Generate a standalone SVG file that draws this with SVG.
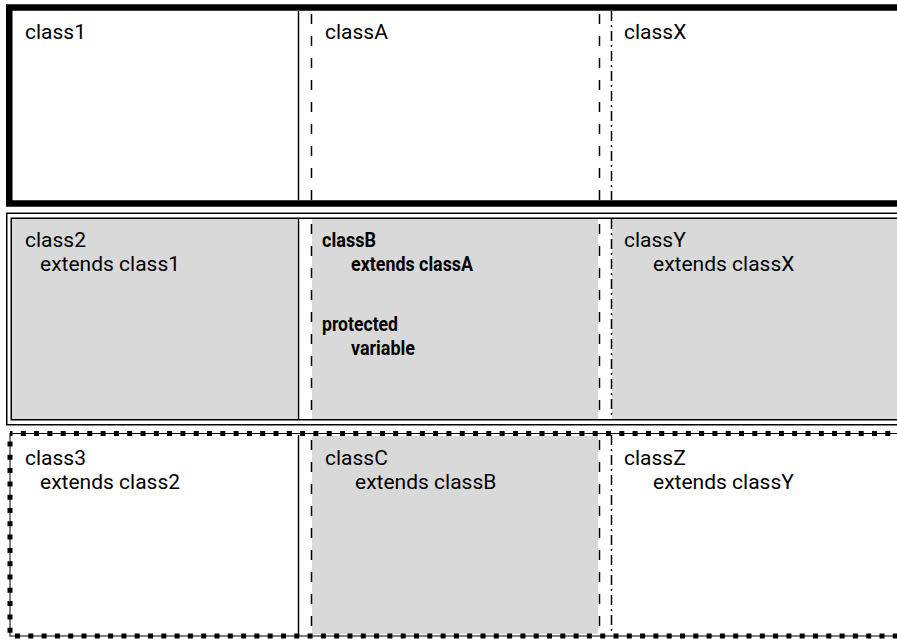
<svg xmlns="http://www.w3.org/2000/svg" width="897" height="639" viewBox="0 0 897 639">
<style>
text{font-family:Roboto,"Liberation Sans",sans-serif;font-size:21px;fill:#000}
.b{font-weight:bold;font-size:21px}
.sh{fill:#d9d9d9}
.c1{stroke:#000;stroke-width:1.5;fill:none}
.c2{stroke:#000;stroke-width:1.5;fill:none;stroke-dasharray:10 12}
.c3{stroke:#000;stroke-width:1.5;fill:none;stroke-dasharray:10 4 2 4}
.dd{stroke:#000;stroke-width:1.5;fill:none}
</style>
<rect width="897" height="639" fill="#fff"/>
<g id="shading">
<rect class="sh" x="12" y="219" width="285" height="201"/>
<rect class="sh" x="312" y="219" width="286" height="201"/>
<rect class="sh" x="612" y="219" width="290" height="201"/>
<rect class="sh" x="312" y="436" width="286" height="198"/>
</g>
<g id="connectors">
<line class="c1" x1="298.5" y1="11" x2="298.5" y2="200"/>
<line class="c2" x1="311.5" y1="14" x2="311.5" y2="200"/>
<line class="c2" x1="599.5" y1="14" x2="599.5" y2="200"/>
<line class="c3" x1="611.5" y1="11" x2="611.5" y2="200"/>
<line class="c1" x1="298.5" y1="219" x2="298.5" y2="420"/>
<line class="c2" x1="311.5" y1="224" x2="311.5" y2="420"/>
<line class="c2" x1="599.5" y1="224" x2="599.5" y2="420"/>
<line class="c3" x1="611.5" y1="219" x2="611.5" y2="420"/>
<line class="c1" x1="298.5" y1="435" x2="298.5" y2="635"/>
<line class="c2" x1="311.5" y1="440" x2="311.5" y2="635"/>
<line class="c2" x1="599.5" y1="440" x2="599.5" y2="635"/>
<line class="c3" x1="611.5" y1="435" x2="611.5" y2="635"/>
</g>
<g id="row1">
<rect x="9.25" y="7.5" width="900" height="196" fill="none" stroke="#000" stroke-width="6.5"/>
</g>
<g id="row2">
<rect class="dd" x="6.75" y="213.25" width="900" height="211.5"/>
<rect class="dd" x="11.25" y="218.25" width="900" height="201.5"/>
</g>
<g id="row3">
<rect x="10" y="433.5" width="900" height="202.5" fill="none" stroke="#000" stroke-width="1"/>
<rect x="10" y="433.5" width="900" height="202.5" fill="none" stroke="#000" stroke-width="5" stroke-dasharray="5 8.3" stroke-dashoffset="2.5"/>
</g>
<g id="class1"><text x="25" y="39">class1</text></g>
<g id="classA"><text x="325" y="39">classA</text></g>
<g id="classX"><text x="624" y="39">classX</text></g>
<g id="class2"><text x="25" y="247">class2</text><text x="40" y="271">extends class1</text></g>
<g id="classB"><text class="b" x="322" y="247" textLength="54" lengthAdjust="spacingAndGlyphs">classB</text><text class="b" x="351" y="271" textLength="122" lengthAdjust="spacingAndGlyphs">extends classA</text><text class="b" x="322" y="331" textLength="76" lengthAdjust="spacingAndGlyphs">protected</text><text class="b" x="351" y="355" textLength="64" lengthAdjust="spacingAndGlyphs">variable</text></g>
<g id="classY"><text x="624" y="247">classY</text><text x="653" y="271">extends classX</text></g>
<g id="class3"><text x="25" y="465">class3</text><text x="40" y="489">extends class2</text></g>
<g id="classC"><text x="325" y="465">classC</text><text x="355" y="489">extends classB</text></g>
<g id="classZ"><text x="624" y="465">classZ</text><text x="653" y="489">extends classY</text></g>
</svg>
